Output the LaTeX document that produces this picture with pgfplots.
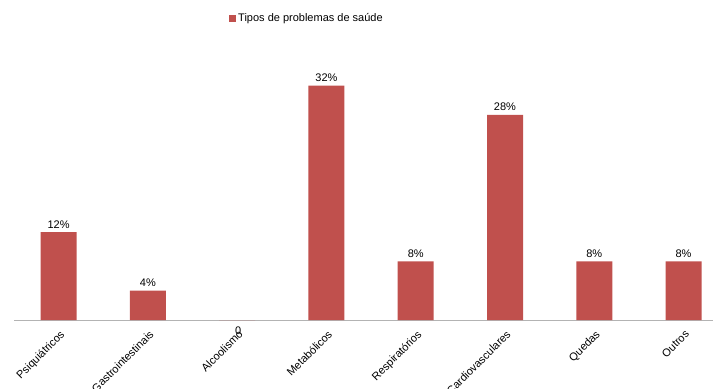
\documentclass[border=0pt]{standalone}
\usepackage{pgfplots}
\pgfplotsset{compat=1.18}
\usepackage{fontspec}
\setmainfont{Liberation Sans}
\definecolor{barred}{HTML}{C0504D}
\definecolor{axgray}{HTML}{B3B3B3}
\begin{document}
\fontsize{11pt}{13pt}\selectfont
\begin{tikzpicture}[x=1pt,y=1pt]
\begin{axis}[
  name=ax,
  scale only axis,
  width=699pt, height=290pt,
  xmin=-0.5, xmax=7.33,
  ymin=0, ymax=39.6,
  axis x line=bottom,
  axis y line=none,
  x axis line style={draw=axgray, line width=1pt, -},
  xtick={0,1,2,3,4,5,6,7},
  xticklabels={Psiquiátricos,Gastrointestinais,Alcoolismo,Metabólicos,Respiratórios,Cardiovasculares,Quedas,Outros},
  major tick length=0pt,
  xticklabel style={rotate=45, anchor=north east, font=\fontsize{11pt}{13pt}\selectfont, inner sep=1pt, xshift=-5pt, yshift=-6pt},
  ybar, bar width=36pt, bar shift=0pt,
  /pgf/number format/assume math mode=true,
  nodes near coords={\pgfmathprintnumber{\pgfplotspointmeta}\%},
  every node near coord/.append style={font=\fontsize{11pt}{13pt}\selectfont, text=black},
  legend style={at={(0.3076,1.041)}, anchor=west, draw=none, fill=none, inner sep=0pt,
    font=\fontsize{11pt}{13pt}\selectfont},
  legend image code/.code={\fill[#1,draw=none] (0pt,-3.5pt) rectangle (7pt,3.5pt);},
  clip=false,
]
\addplot[fill=barred, draw=none] coordinates {(0,12) (1,4) (3,32) (4,8) (5,28) (6,8) (7,8)};
\addlegendentry{Tipos de problemas de saúde}
\addplot[fill=barred, draw=none, forget plot,
  nodes near coords={0},
  every node near coord/.append style={yshift=-18pt, xshift=1pt}] coordinates {(2,0)};
\coordinate (bl) at (rel axis cs:0,0);
\coordinate (tr) at (rel axis cs:1,1);
\end{axis}
\pgfresetboundingbox
\path[use as bounding box] ([xshift=-14pt,yshift=-68pt]bl) rectangle ([yshift=30pt]tr);
\end{tikzpicture}
\end{document}
